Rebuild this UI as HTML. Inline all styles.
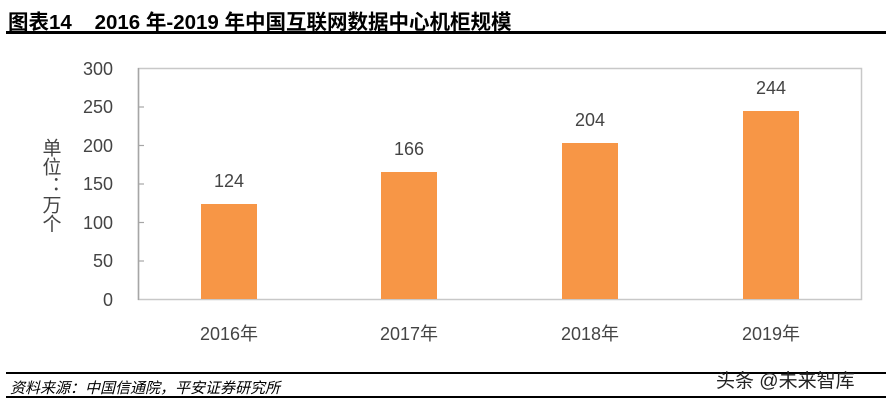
<!DOCTYPE html>
<html><head><meta charset="utf-8"><style>
body{margin:0;background:#fff;width:892px;height:401px;overflow:hidden;position:relative;font-family:"Liberation Sans","Noto Sans CJK SC",sans-serif}
.a{position:absolute}
</style></head><body>
<div class="a" style="left:8px;top:5px;font-size:20.5px;font-weight:bold;color:#000;white-space:nowrap">图表14&nbsp;&nbsp;&nbsp;&nbsp;2016 年-2019 年中国互联网数据中心机柜规模</div>
<div class="a" style="left:6px;top:31px;width:880px;height:3px;background:#000"></div>
<svg class="a" style="left:0;top:0" width="892" height="401">
<g font-family="Liberation Sans, Noto Sans CJK SC, sans-serif" fill="#444" font-size="18">
<rect x="138.5" y="68.5" width="723" height="231" fill="none" stroke="#c8c8c8" stroke-width="1.5"/>
<line x1="138.5" y1="68" x2="138.5" y2="300" stroke="#a6a6a6" stroke-width="1.5"/>
<g stroke="#a6a6a6" stroke-width="1.2">
<line x1="138" x2="144" y1="107" y2="107"/><line x1="138" x2="144" y1="145.5" y2="145.5"/><line x1="138" x2="144" y1="184" y2="184"/><line x1="138" x2="144" y1="222.5" y2="222.5"/><line x1="138" x2="144" y1="261" y2="261"/>
</g>
<g text-anchor="end">
<text x="113" y="75">300</text><text x="113" y="113">250</text><text x="113" y="152">200</text><text x="113" y="190">150</text><text x="113" y="229">100</text><text x="113" y="267">50</text><text x="113" y="306">0</text>
</g>
<g fill="#f79646">
<rect x="201" y="204" width="56" height="95"/>
<rect x="381" y="172" width="56" height="127"/>
<rect x="562" y="143" width="56" height="156"/>
<rect x="743" y="111" width="56" height="188"/>
</g>
<g text-anchor="middle">
<text x="229" y="187">124</text><text x="409" y="155">166</text><text x="590" y="126">204</text><text x="771" y="94">244</text>
<text x="229" y="340">2016年</text><text x="409" y="340">2017年</text><text x="590" y="340">2018年</text><text x="771" y="340">2019年</text>
</g>
<text x="50" y="138" style="writing-mode:tb" font-size="19">单位：万个</text>
</g>
</svg>
<div class="a" style="left:6px;top:372px;width:880px;height:2px;background:#000"></div>
<div class="a" style="left:10px;top:377px;font-size:15px;font-style:italic;color:#000">资料来源：中国信通院，平安证券研究所</div>
<div class="a" style="left:6px;top:396px;width:880px;height:2px;background:#000"></div>
<div class="a" style="left:716px;top:366px;font-size:19px;color:#222">头条 @未来智库</div>
</body></html>
